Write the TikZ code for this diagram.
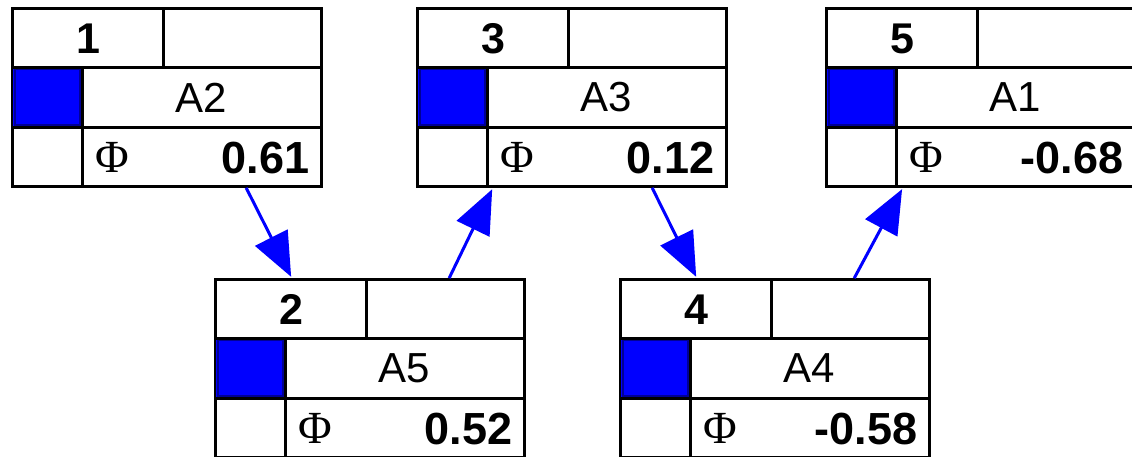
\documentclass[tikz,border=0pt]{standalone}
\usepackage{fontspec}
\setmainfont{Liberation Sans}
\newfontfamily\phifont{Liberation Serif}
\usetikzlibrary{arrows.meta}
\tikzset{
  bnbox/.style={draw=black, line width=3pt, fill=white, rectangle, minimum width=309pt,
    minimum height=178pt, outer sep=0pt, inner sep=0pt, anchor=north west},
  innerline/.style={draw=black, line width=3pt, line cap=rect},
  bluecell/.style={fill={rgb,255:red,0;green,0;blue,255}},
  blueedge/.style={draw={rgb,255:red,0;green,0;blue,150}, line width=1.5pt},
  numtxt/.style={inner sep=0pt, font=\fontsize{43}{48}\selectfont\bfseries},
  labtxt/.style={inner sep=0pt, font=\fontsize{42}{48}\selectfont},
  phitxt/.style={inner sep=0pt, font=\fontsize{46}{50}\selectfont\phifont},
  valtxt/.style={inner sep=0pt, anchor=base east, font=\fontsize{45}{50}\selectfont\bfseries},
  arr/.style={draw={rgb,255:red,0;green,0;blue,255}, line width=3pt,
    -{Triangle[length=44pt,width=36pt]}, shorten <=1.5pt, shorten >=3pt}
}
\newcommand\bnnode[6]{%
  \node[bnbox] (#1) at (#2,#3) {};
  \fill[bluecell] ([yshift=-58.5pt]#1.north west) rectangle ([xshift=70pt,yshift=-119pt]#1.north west);
  \draw[blueedge] ([xshift=2.3pt,yshift=-60.8pt]#1.north west) rectangle ([xshift=67.7pt,yshift=-116.7pt]#1.north west);
  \draw[innerline] ([yshift=-58.5pt]#1.north west) -- ([yshift=-58.5pt]#1.north east);
  \draw[innerline] ([yshift=-119pt]#1.north west) -- ([yshift=-119pt]#1.north east);
  \draw[innerline] ([xshift=151pt]#1.north west) -- ([xshift=151pt,yshift=-58.5pt]#1.north west);
  \draw[innerline] ([xshift=70pt,yshift=-58.5pt]#1.north west) -- ([xshift=70pt]#1.south west);
  \node[numtxt] (#1num) at ([xshift=76pt,yshift=-30pt]#1.north west) {#4};
  \node[labtxt] (#1lab) at ([xshift=189pt,yshift=-89pt]#1.north west) {#5};
  \node[phitxt] (#1phi) at ([xshift=100pt,yshift=-149pt]#1.north west) {Φ};
  \node[valtxt] (#1val) at ([xshift=297pt,yshift=-164.5pt]#1.north west) {#6};
}
\begin{document}
\begin{tikzpicture}[x=1pt,y=-1pt]
  \useasboundingbox (0,0) rectangle (1132,456);
  \fill[white] (0,0) rectangle (1132,456);
  \clip (0,0) rectangle (1132,456);
  \bnnode{b1}{12.5}{8.5}{1}{A2}{0.61}
  \bnnode{b3}{417.5}{8.5}{3}{A3}{0.12}
  \bnnode{b5}{826.5}{8.5}{5}{A1}{-0.68}
  \bnnode{b2}{215.5}{279.5}{2}{A5}{0.52}
  \bnnode{b4}{620.5}{279.5}{4}{A4}{-0.58}
  \draw[arr] ([xshift=233pt]b1.south west) -- ([xshift=77pt]b2.north west);
  \draw[arr] ([xshift=233pt]b2.north west) -- ([xshift=76pt]b3.south west);
  \draw[arr] ([xshift=234pt]b3.south west) -- ([xshift=77pt]b4.north west);
  \draw[arr] ([xshift=233pt]b4.north west) -- ([xshift=77pt]b5.south west);
\end{tikzpicture}
\end{document}
